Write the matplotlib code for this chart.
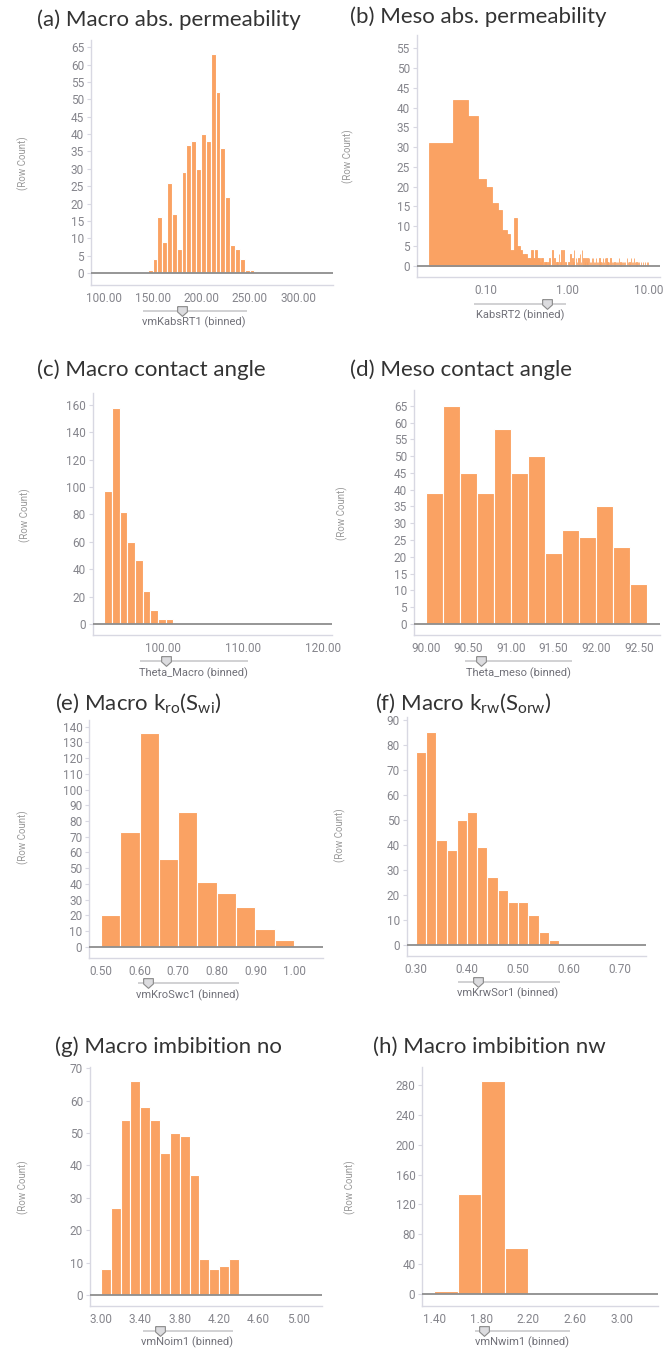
"""Eight Spotfire-style binned histograms of the rock-typing parameters."""
import matplotlib

matplotlib.use("Agg")
import matplotlib.pyplot as plt
import numpy as np
from matplotlib.ticker import FixedLocator, NullLocator

plt.rcParams["font.family"] = ["Roboto", "DejaVu Sans"]
plt.rcParams["mathtext.fontset"] = "custom"
plt.rcParams["mathtext.rm"] = "Lato"
plt.rcParams["mathtext.it"] = "Lato"

# ---- data: bin starts / widths / counts ----
# (a) vmKabsRT1
kabs1_start, kabs1_width = 145.0, 5.0
kabs1_counts = [1, 4, 16, 9, 26, 17, 7, 29, 37, 38, 30, 40, 38, 63, 52, 36,
                22, 8, 7, 4, 1, 1]

# (b) KabsRT2 (0.02-wide bins, drawn on a log axis; empty bins left out)
kabs2_width = 0.02
kabs2_left = [0.02, 0.04, 0.06, 0.08, 0.10, 0.12, 0.14, 0.16, 0.18, 0.20,
              0.22, 0.24, 0.26, 0.28, 0.30, 0.32, 0.34, 0.36, 0.38, 0.40,
              0.42, 0.44, 0.46, 0.48, 0.52, 0.54, 0.58, 0.60, 0.64, 0.68,
              0.72, 0.74, 0.78, 0.82, 0.84, 0.88, 0.94, 1.02, 1.04, 1.08,
              1.14, 1.18, 1.20, 1.26, 1.30, 1.36, 1.42, 1.46, 1.50, 1.56,
              1.62, 1.66, 1.72, 1.76, 1.82, 1.88, 1.92, 1.98, 2.04, 2.12,
              2.16, 2.22, 2.30, 2.38, 2.46, 2.54, 2.62, 2.70, 2.80, 2.88,
              3.00, 3.08, 3.14, 3.22, 3.36, 3.48, 3.62, 3.76, 3.90, 4.00,
              4.14, 4.28, 4.46, 4.62, 4.80, 4.98, 5.12, 5.30, 5.56, 5.74,
              5.94, 6.10, 6.28, 6.50, 6.70, 7.00, 7.38, 7.60, 7.96, 8.40,
              8.90, 9.30, 9.78]
kabs2_counts = [31, 42, 38, 22, 20, 16, 14, 9, 8, 4,
                12, 5, 4, 3, 3, 2, 2, 4, 2, 4,
                2, 2, 1, 2, 1, 1, 1, 2, 4, 2,
                1, 1, 3, 1, 4, 4, 1, 1, 1, 3,
                2, 1, 4, 2, 1, 2, 3, 1, 4, 2,
                1, 2, 1, 2, 2, 1, 1, 2, 2, 1,
                1, 2, 1, 1, 2, 1, 1, 2, 1, 2,
                2, 1, 1, 1, 2, 1, 1, 1, 1, 1,
                1, 2, 1, 1, 1, 1, 1, 2, 1, 1,
                2, 1, 1, 2, 1, 1, 1, 1, 1, 1,
                1, 1, 1]

# (c) Theta_Macro
thmac_start, thmac_width = 92.6, 0.96
thmac_counts = [97, 158, 82, 60, 47, 24, 10, 4, 4, 1]

# (d) Theta_meso
thmes_start, thmes_width = 90.0, 0.2
thmes_counts = [39, 65, 45, 39, 58, 45, 50, 21, 28, 26, 35, 23, 12]

# (e) vmKroSwc1
kro_start, kro_width = 0.50, 0.05
kro_counts = [20, 73, 136, 56, 86, 41, 34, 25, 11, 4]

# (f) vmKrwSor1
krw_start, krw_width = 0.30, 0.02
krw_counts = [77, 85, 42, 38, 50, 53, 39, 27, 22, 17, 17, 12, 5, 2]

# (g) vmNoim1
noim_start, noim_width = 3.0, 0.1
noim_counts = [8, 27, 54, 66, 58, 54, 44, 50, 49, 37, 11, 8, 9, 11]

# (h) vmNwim1
nwim_start, nwim_width = 1.4, 0.2
nwim_counts = [4, 134, 286, 61]

# ---- style ----
W, H = 670, 1349
ORANGE = "#FAA263"
TICK_C = "#85858c"
AXIS_C = "#d8d8e2"
ZERO_C = "#8e8e8e"
TITLE_C = "#333333"

fig = plt.figure(figsize=(W / 100, H / 100), dpi=100)
# overlay in pixel coordinates for titles / labels / slider widgets
ov = fig.add_axes([0, 0, 1, 1], zorder=5)
ov.set_xlim(0, W)
ov.set_ylim(H, 0)
ov.axis("off")

SHIELD = [(-1, 1), (1, 1), (1, -0.1), (0, -1), (-1, -0.1), (-1, 1)]


def panel(box, left, counts, width, xlim, ylim, yticks, xticks, fmt,
          log=False, lw=0.8, ec="white"):
    l, r, t, b = box
    ax = fig.add_axes([l / W, 1 - b / H, (r - l) / W, (b - t) / H])
    ax.bar(left, counts, width=width, align="edge", color=ORANGE,
           edgecolor=ec, linewidth=lw, zorder=2)
    if log:
        ax.set_xscale("log")
        ax.xaxis.set_minor_locator(NullLocator())
    ax.set_xlim(*xlim)
    ax.set_ylim(*ylim)
    ax.axhline(0, color=ZERO_C, lw=1.3, zorder=3)
    for s in ("top", "right"):
        ax.spines[s].set_visible(False)
    for s in ("left", "bottom"):
        ax.spines[s].set_color(AXIS_C)
        ax.spines[s].set_linewidth(1.0)
    ax.yaxis.set_major_locator(FixedLocator(yticks))
    ax.set_yticklabels([str(v) for v in yticks])
    ax.xaxis.set_major_locator(FixedLocator(xticks))
    ax.set_xticklabels([fmt % v for v in xticks])
    ax.tick_params(axis="y", length=3, width=0.8, color=AXIS_C, pad=2,
                   labelsize=8.5, labelcolor=TICK_C)
    ax.tick_params(axis="x", length=0, pad=5, labelsize=8.5,
                   labelcolor=TICK_C)
    ax.set_facecolor("none")
    return ax


def decor(title, tpos, ylab_pos, xlab, xlab_pos, slider):
    ov.text(tpos[0], tpos[1], title, ha="left", va="center", fontsize=16,
            color=TITLE_C, family="Lato")
    ov.text(ylab_pos[0], ylab_pos[1], "(Row Count)", rotation=90,
            ha="center", va="center", fontsize=7, color="#9a9a9a")
    ov.text(xlab_pos[0], xlab_pos[1], xlab, ha="center", va="center",
            fontsize=8, color="#707078")
    x0, x1, xm, y = slider
    ov.plot([x0, x1], [y, y], color="#c9c9cc", lw=1.2, solid_capstyle="butt")
    ov.plot([xm], [y], marker=SHIELD, ms=7, mfc="#dcdcdf", mec="#8a8a8a",
            mew=0.8)


def edges(start, width, counts):
    return [start + i * width for i in range(len(counts))]


# (a)
panel((91, 333, 40, 285), edges(kabs1_start, kabs1_width, kabs1_counts),
      kabs1_counts, kabs1_width, (86.6, 336), (-3.46, 67.1),
      list(range(0, 70, 5)), [100, 150, 200, 250, 300], "%.2f")
decor("(a) Macro abs. permeability", (37, 20), (23, 163),
      "vmKabsRT1 (binned)", (194, 322), (143, 247, 182, 310.5))

# (b)
panel((416.7, 660, 35, 276.7), kabs2_left, kabs2_counts, kabs2_width,
      (0.0143, 13.6), (-2.78, 58.4), list(range(0, 60, 5)),
      [0.1, 1.0, 10.0], "%.2f", log=True, lw=0.6, ec=ORANGE)
decor("(b) Meso abs. permeability", (350, 17), (348, 156),
      "KabsRT2 (binned)", (520, 315), (474, 566, 547, 304))

# (c)
panel((92.7, 331.7, 393.3, 635), edges(thmac_start, thmac_width, thmac_counts),
      thmac_counts, thmac_width, (91.14, 121.1), (-8.0, 168.5),
      list(range(0, 170, 20)), [100, 110, 120], "%.2f")
decor("(c) Macro contact angle", (37, 370), (25, 515),
      "Theta_Macro (binned)", (193, 673), (140, 248, 166, 660.5))

# (d)
panel((414, 660, 390, 635), edges(thmes_start, thmes_width, thmes_counts),
      thmes_counts, thmes_width, (89.86, 92.75), (-3.3, 69.7),
      list(range(0, 70, 5)), [90.0, 90.5, 91.0, 91.5, 92.0, 92.5], "%.2f")
decor("(d) Meso contact angle", (350, 370), (342, 513),
      "Theta_meso (binned)", (518, 673), (465, 572, 481, 660.5))

# (e)
panel((89.3, 322.7, 720, 957.7), edges(kro_start, kro_width, kro_counts),
      kro_counts, kro_width, (0.47, 1.074), (-7.0, 144.3),
      list(range(0, 150, 10)), [0.5, 0.6, 0.7, 0.8, 0.9, 1.0], "%.2f")
decor(r"(e) Macro k$_{\mathrm{ro}}$(S$_{\mathrm{wi}}$)", (55, 703), (23, 837),
      "vmKroSwc1 (binned)", (188, 995), (138, 239, 148, 982.5))

# (f)
panel((406.7, 645.7, 716.7, 956), edges(krw_start, krw_width, krw_counts),
      krw_counts, krw_width, (0.2818, 0.750), (-4.4, 91.3),
      list(range(0, 100, 10)), [0.3, 0.4, 0.5, 0.6, 0.7], "%.2f")
decor(r"(f) Macro k$_{\mathrm{rw}}$(S$_{\mathrm{orw}}$)", (375, 703),
      (340, 835), "vmKrwSor1 (binned)", (508, 993), (458, 560, 478, 981.5))

# (g)
panel((90, 321.7, 1066.7, 1305.7), edges(noim_start, noim_width, noim_counts),
      noim_counts, noim_width, (2.89, 5.24), (-3.3, 70.5),
      list(range(0, 80, 10)), [3.0, 3.4, 3.8, 4.2, 4.6, 5.0], "%.2f")
decor("(g) Macro imbibition no", (55, 1047), (23, 1187),
      "vmNoim1 (binned)", (187, 1342.5), (143, 233, 160, 1330.5))

# (h)
panel((422.3, 658, 1066.7, 1305.7), edges(nwim_start, nwim_width, nwim_counts),
      nwim_counts, nwim_width, (1.297, 3.31), (-15.7, 304.5),
      list(range(0, 320, 40)), [1.4, 1.8, 2.2, 2.6, 3.0], "%.2f")
decor("(h) Macro imbibition nw", (373, 1047), (350, 1187),
      "vmNwim1 (binned)", (522, 1342.5), (475, 570, 484, 1330.5))

fig.savefig("out.png", dpi=100, facecolor="white")
